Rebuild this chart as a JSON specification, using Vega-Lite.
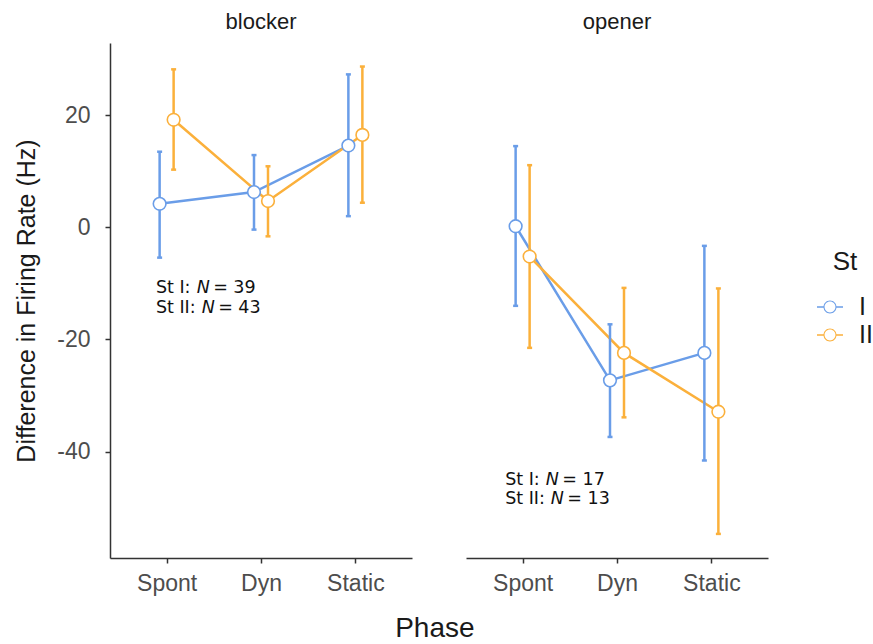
{
  "$schema": "https://vega.github.io/schema/vega-lite/v6.json",
  "background": "white",
  "padding": {"left": 14, "right": 0, "top": 11, "bottom": 0},
  "datasets": {
    "main": [
      {"Type": "blocker", "Phase": "Spont", "St": "I", "Mean": 4.2, "Lo": -5.4, "Hi": 13.5},
      {"Type": "blocker", "Phase": "Spont", "St": "II", "Mean": 19.2, "Lo": 10.3, "Hi": 28.2},
      {"Type": "blocker", "Phase": "Dyn", "St": "I", "Mean": 6.3, "Lo": -0.4, "Hi": 12.9},
      {"Type": "blocker", "Phase": "Dyn", "St": "II", "Mean": 4.7, "Lo": -1.6, "Hi": 10.9},
      {"Type": "blocker", "Phase": "Static", "St": "I", "Mean": 14.6, "Lo": 2.0, "Hi": 27.3},
      {"Type": "blocker", "Phase": "Static", "St": "II", "Mean": 16.5, "Lo": 4.4, "Hi": 28.7},
      {"Type": "opener", "Phase": "Spont", "St": "I", "Mean": 0.2, "Lo": -14.0, "Hi": 14.5},
      {"Type": "opener", "Phase": "Spont", "St": "II", "Mean": -5.2, "Lo": -21.5, "Hi": 11.1},
      {"Type": "opener", "Phase": "Dyn", "St": "I", "Mean": -27.3, "Lo": -37.4, "Hi": -17.3},
      {"Type": "opener", "Phase": "Dyn", "St": "II", "Mean": -22.4, "Lo": -33.9, "Hi": -10.8},
      {"Type": "opener", "Phase": "Static", "St": "I", "Mean": -22.4, "Lo": -41.6, "Hi": -3.3},
      {"Type": "opener", "Phase": "Static", "St": "II", "Mean": -32.9, "Lo": -54.7, "Hi": -10.9}
    ],
    "notes": [
      {"Type": "blocker", "St": "I", "label": "St I:", "count": "= 39"},
      {"Type": "blocker", "St": "II", "label": "St II:", "count": "= 43"},
      {"Type": "opener", "St": "I", "label": "St I:", "count": "= 17"},
      {"Type": "opener", "St": "II", "label": "St II:", "count": "= 13"}
    ]
  },
  "title": {"text": "Phase", "orient": "bottom", "anchor": "middle", "font": "Liberation Sans", "fontSize": 28, "fontWeight": "normal", "color": "#1a1a1a", "offset": 20, "dx": -9},
  "spacing": 54,
  "resolve": {"scale": {"y": "shared", "color": "shared", "stroke": "shared"}},
  "config": {
    "view": {"stroke": null},
    "font": "Liberation Sans",
    "axis": {"grid": false, "domainColor": "#333333", "domainWidth": 1.5, "tickColor": "#333333", "tickWidth": 1.5, "tickSize": 5, "labelFont": "Liberation Sans", "labelFontSize": 23, "labelColor": "#4d4d4d", "titleFont": "Liberation Sans", "titleFontSize": 25, "titleFontWeight": "normal", "titleColor": "#1a1a1a"}
  },
  "hconcat": [
    {
      "width": 302, "height": 515,
      "title": {"text": "blocker", "anchor": "middle", "frame": "group", "font": "Liberation Sans", "fontSize": 22, "fontWeight": "normal", "color": "#1a1a1a", "baseline": "bottom", "offset": -13},
      "layer": [
        {
          "data": {"name": "main"},
          "transform": [{"filter": {"field": "Type", "equal": "blocker"}}],
          "encoding": {
            "x": {"field": "Phase", "type": "nominal", "sort": ["Spont", "Dyn", "Static"], "scale": {"type": "point", "padding": 0.6}, "axis": {"title": null, "labelAngle": 0, "labelPadding": 9}},
            "xOffset": {"field": "St", "type": "nominal", "scale": {"type": "point", "range": [-7, 7], "padding": 0}}
          },
          "layer": [
            {"mark": {"type": "line", "strokeWidth": 2.5}, "encoding": {
              "y": {"field": "Mean", "type": "quantitative", "scale": {"domain": [-59, 32.9], "nice": false, "zero": false}, "axis": {"title": "Difference in Firing Rate (Hz)", "values": [-40, -20, 0, 20], "labelExpr": "'' + datum.value", "labelPadding": 15, "titlePadding": 17}},
              "stroke": {"field": "St", "type": "nominal", "scale": {"domain": ["I", "II"], "range": ["#6a9de8", "#fbb03b"]},
                "legend": {"title": "St", "orient": "none", "legendX": 707, "legendY": 206, "titleFont": "Liberation Sans", "titleFontSize": 26, "titleFontWeight": "normal", "titleColor": "#1a1a1a", "titleAnchor": "middle", "titlePadding": 19, "labelFont": "Liberation Sans", "labelFontSize": 25, "labelColor": "#1a1a1a", "labelOffset": 16, "symbolType": "M-1,-0.055H-0.49V0.055H-1Z M0.49,-0.055H1V0.055H0.49Z M0.5,0A0.5,0.5,0,1,1,-0.5,0A0.5,0.5,0,1,1,0.5,0Z M0.42,0A0.42,0.42,0,1,0,-0.42,0A0.42,0.42,0,1,0,0.42,0Z", "symbolSize": 676, "symbolStrokeWidth": 0, "rowPadding": 2}}
            }},
            {"mark": {"type": "rule", "strokeWidth": 2.5}, "encoding": {"y": {"field": "Lo", "type": "quantitative"}, "y2": {"field": "Hi"}, "stroke": {"field": "St", "type": "nominal"}}},
            {"mark": {"type": "tick", "size": 5, "thickness": 2.5, "opacity": 1}, "encoding": {"y": {"field": "Lo", "type": "quantitative"}, "color": {"field": "St", "type": "nominal", "scale": {"domain": ["I", "II"], "range": ["#6a9de8", "#fbb03b"]}, "legend": null}}},
            {"mark": {"type": "tick", "size": 5, "thickness": 2.5, "opacity": 1}, "encoding": {"y": {"field": "Hi", "type": "quantitative"}, "color": {"field": "St", "type": "nominal", "legend": null}}},
            {"mark": {"type": "point", "filled": false, "fill": "white", "fillOpacity": 1, "opacity": 1, "size": 160, "strokeWidth": 1.6}, "encoding": {"y": {"field": "Mean", "type": "quantitative"}, "stroke": {"field": "St", "type": "nominal"}}}
          ]
        },
        {
          "data": {"name": "notes"},
          "transform": [{"filter": "datum.Type == 'blocker' && datum.St == 'I'"}],
          "encoding": {"x": {"datum": "Spont", "type": "nominal"}, "y": {"datum": -11.75, "type": "quantitative"}},
          "layer": [
            {"mark": {"type": "text", "align": "left", "baseline": "alphabetic", "font": "DejaVu Sans", "fontSize": 17.5, "color": "#111111", "dx": -10.7}, "encoding": {"text": {"field": "label"}}},
            {"mark": {"type": "text", "align": "left", "baseline": "alphabetic", "font": "DejaVu Sans", "fontSize": 17.5, "fontStyle": "italic", "color": "#111111", "dx": 30, "text": "N"}},
            {"mark": {"type": "text", "align": "left", "baseline": "alphabetic", "font": "DejaVu Sans", "fontSize": 17.5, "color": "#111111", "dx": 46.5}, "encoding": {"text": {"field": "count"}}}
          ]
        },
        {
          "data": {"name": "notes"},
          "transform": [{"filter": "datum.Type == 'blocker' && datum.St == 'II'"}],
          "encoding": {"x": {"datum": "Spont", "type": "nominal"}, "y": {"datum": -15.3, "type": "quantitative"}},
          "layer": [
            {"mark": {"type": "text", "align": "left", "baseline": "alphabetic", "font": "DejaVu Sans", "fontSize": 17.5, "color": "#111111", "dx": -10.7}, "encoding": {"text": {"field": "label"}}},
            {"mark": {"type": "text", "align": "left", "baseline": "alphabetic", "font": "DejaVu Sans", "fontSize": 17.5, "fontStyle": "italic", "color": "#111111", "dx": 35, "text": "N"}},
            {"mark": {"type": "text", "align": "left", "baseline": "alphabetic", "font": "DejaVu Sans", "fontSize": 17.5, "color": "#111111", "dx": 51.5}, "encoding": {"text": {"field": "count"}}}
          ]
        }
      ]
    },
    {
      "width": 302, "height": 515,
      "title": {"text": "opener", "anchor": "middle", "frame": "group", "font": "Liberation Sans", "fontSize": 22, "fontWeight": "normal", "color": "#1a1a1a", "baseline": "bottom", "offset": -13},
      "layer": [
        {
          "data": {"name": "main"},
          "transform": [{"filter": {"field": "Type", "equal": "opener"}}],
          "encoding": {
            "x": {"field": "Phase", "type": "nominal", "sort": ["Spont", "Dyn", "Static"], "scale": {"type": "point", "padding": 0.6}, "axis": {"title": null, "labelAngle": 0, "labelPadding": 9}},
            "xOffset": {"field": "St", "type": "nominal", "scale": {"type": "point", "range": [-7, 7], "padding": 0}}
          },
          "layer": [
            {"mark": {"type": "line", "strokeWidth": 2.5}, "encoding": {"y": {"field": "Mean", "type": "quantitative", "scale": {"domain": [-59, 32.9], "nice": false, "zero": false}, "axis": null}, "stroke": {"field": "St", "type": "nominal", "scale": {"domain": ["I", "II"], "range": ["#6a9de8", "#fbb03b"]}}}},
            {"mark": {"type": "rule", "strokeWidth": 2.5}, "encoding": {"y": {"field": "Lo", "type": "quantitative"}, "y2": {"field": "Hi"}, "stroke": {"field": "St", "type": "nominal"}}},
            {"mark": {"type": "tick", "size": 5, "thickness": 2.5, "opacity": 1}, "encoding": {"y": {"field": "Lo", "type": "quantitative"}, "color": {"field": "St", "type": "nominal", "scale": {"domain": ["I", "II"], "range": ["#6a9de8", "#fbb03b"]}, "legend": null}}},
            {"mark": {"type": "tick", "size": 5, "thickness": 2.5, "opacity": 1}, "encoding": {"y": {"field": "Hi", "type": "quantitative"}, "color": {"field": "St", "type": "nominal", "legend": null}}},
            {"mark": {"type": "point", "filled": false, "fill": "white", "fillOpacity": 1, "opacity": 1, "size": 160, "strokeWidth": 1.6}, "encoding": {"y": {"field": "Mean", "type": "quantitative"}, "stroke": {"field": "St", "type": "nominal"}}}
          ]
        },
        {
          "data": {"name": "notes"},
          "transform": [{"filter": "datum.Type == 'opener' && datum.St == 'I'"}],
          "encoding": {"x": {"datum": "Spont", "type": "nominal"}, "y": {"datum": -45.9, "type": "quantitative"}},
          "layer": [
            {"mark": {"type": "text", "align": "left", "baseline": "alphabetic", "font": "DejaVu Sans", "fontSize": 17.5, "color": "#111111", "dx": -17.5}, "encoding": {"text": {"field": "label"}}},
            {"mark": {"type": "text", "align": "left", "baseline": "alphabetic", "font": "DejaVu Sans", "fontSize": 17.5, "fontStyle": "italic", "color": "#111111", "dx": 23.2, "text": "N"}},
            {"mark": {"type": "text", "align": "left", "baseline": "alphabetic", "font": "DejaVu Sans", "fontSize": 17.5, "color": "#111111", "dx": 39.7}, "encoding": {"text": {"field": "count"}}}
          ]
        },
        {
          "data": {"name": "notes"},
          "transform": [{"filter": "datum.Type == 'opener' && datum.St == 'II'"}],
          "encoding": {"x": {"datum": "Spont", "type": "nominal"}, "y": {"datum": -49.4, "type": "quantitative"}},
          "layer": [
            {"mark": {"type": "text", "align": "left", "baseline": "alphabetic", "font": "DejaVu Sans", "fontSize": 17.5, "color": "#111111", "dx": -17.5}, "encoding": {"text": {"field": "label"}}},
            {"mark": {"type": "text", "align": "left", "baseline": "alphabetic", "font": "DejaVu Sans", "fontSize": 17.5, "fontStyle": "italic", "color": "#111111", "dx": 28.2, "text": "N"}},
            {"mark": {"type": "text", "align": "left", "baseline": "alphabetic", "font": "DejaVu Sans", "fontSize": 17.5, "color": "#111111", "dx": 44.7}, "encoding": {"text": {"field": "count"}}}
          ]
        }
      ]
    }
  ]
}
